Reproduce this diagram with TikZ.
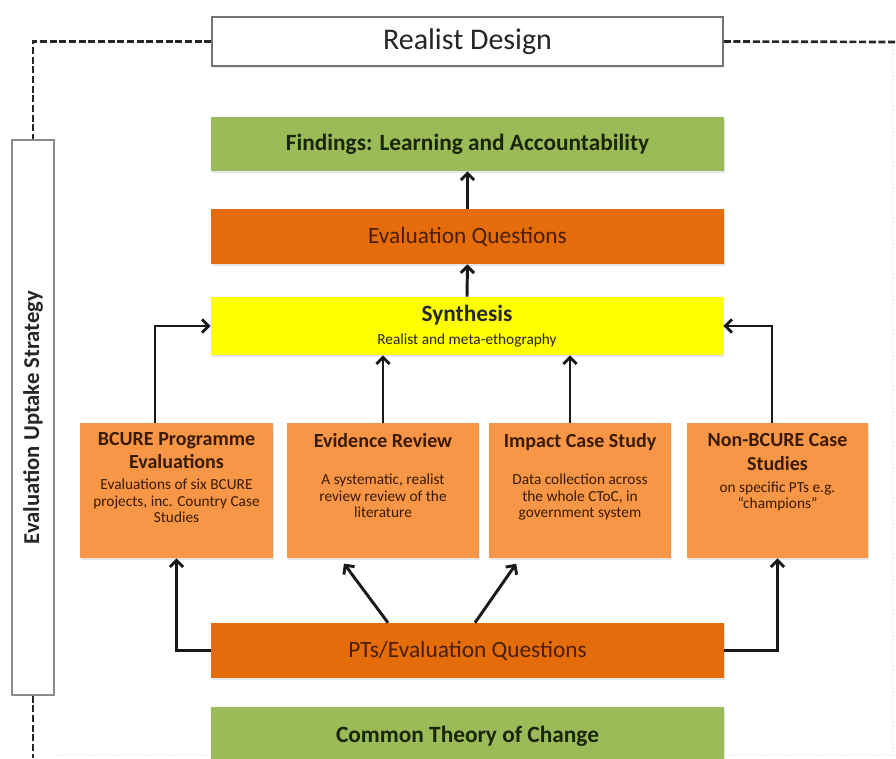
\documentclass[tikz,border=0pt]{standalone}
\usepackage{fontspec}
\setmainfont{Carlito}
\usetikzlibrary{arrows.meta,calc,shadows}

\definecolor{gfill}{HTML}{9BBB59}
\definecolor{ofill}{HTML}{E46C0A}
\definecolor{lofill}{HTML}{F79646}
\definecolor{yfill}{HTML}{FFFF00}
\definecolor{gtext}{HTML}{1A260A}
\definecolor{otext}{HTML}{4A1E00}
\definecolor{ltext}{HTML}{3A1A00}

% text blocks inside the four method boxes
\newcommand{\cardtext}[3]{\parbox[c][99pt][t]{#1}{\centering\vspace*{#2}#3}}
\newcommand{\cardtitle}[1]{{\fontsize{15}{17.5}\selectfont\bfseries #1\par}}
\newcommand{\carddesc}[1]{{\fontsize{11.5}{12.5}\selectfont #1\par}}

\begin{document}
\begin{tikzpicture}[x=0.75pt,y=-0.75pt,
  band/.style={rectangle, minimum width=384.75pt, inner sep=0pt,
    font=\fontsize{17.5}{20}\selectfont,
    drop shadow={shadow xshift=1pt,shadow yshift=-1.5pt,opacity=.2}},
  card/.style={rectangle, fill=lofill, minimum height=101.25pt, inner sep=0pt,
    text=ltext, drop shadow={shadow xshift=1pt,shadow yshift=-1.5pt,opacity=.2}},
  arr/.style={-{Straight Barb[length=5pt,width=10pt]}, line width=2.2pt, black!90},
  frame/.style={line width=2pt, black!85, dash pattern=on 5.25pt off 2pt}]

\useasboundingbox (0,0) rectangle (896,758);
\clip (0,0) rectangle (896,758);

% faint outer edges
\draw[black!7, dotted, line width=.8pt] (893,42) -- (893,758);
\draw[black!7, dotted, line width=.8pt] (54,755) -- (896,755);

% title and side strip
\node[draw=black!55, line width=1.2pt, fill=white, minimum width=383.25pt,
  minimum height=36.75pt, inner sep=0pt, font=\fontsize{22.5}{26}\selectfont, text=black!85,
  drop shadow={shadow xshift=1pt,shadow yshift=-1.5pt,opacity=.15}]
  (rd) at (467.5,41.5) {Realist Design};
\node[draw=black!45, line width=1pt, fill=white, rotate=90, minimum width=416.25pt,
  minimum height=31.5pt, inner sep=0pt, font=\fontsize{17}{20}\selectfont\bfseries, text=black!85]
  (eus) at (33,417.5) {Evaluation Uptake Strategy};

% dashed frame
\coordinate (frTR) at (896,42);
\coordinate (bot) at (0,758);
\draw[frame] (rd.west) -| (eus.east);
\draw[frame] (rd.east) -- (frTR);
\draw[frame] (eus.west) -- (eus.west |- bot);

% main bands
\node[band, fill=gfill, minimum height=40.5pt, text=gtext, font=\fontsize{17.5}{20}\selectfont\bfseries]
  (find) at (467.5,144) {Findings: Learning and Accountability};
\node[band, fill=ofill, minimum height=41.25pt, text=otext]
  (evq) at (467.5,236.5) {Evaluation Questions};
\node[band, fill=yfill, minimum width=384pt, minimum height=43.5pt, align=center, text=black!85]
  (syn) at (467,326) {\textbf{Synthesis}\\[-3pt]{\fontsize{11.5}{12}\selectfont Realist and meta-ethography}};
\node[band, fill=ofill, minimum height=41.25pt, text=otext]
  (pts) at (467.5,650.5) {PTs/Evaluation Questions};
\node[band, fill=gfill, minimum height=43.5pt, text=gtext, font=\fontsize{17.5}{20}\selectfont\bfseries]
  (ctc) at (467.5,736) {Common Theory of Change};

% method boxes
\node[card, minimum width=144.75pt] (b1) at (176.5,490.5)
  {\cardtext{142pt}{6pt}{\cardtitle{BCURE Programme\\Evaluations}\vspace{3pt}%
   \carddesc{Evaluations of six BCURE\\projects, inc. Country Case\\Studies}}};
\node[card, minimum width=144pt] (b2) at (383,490.5)
  {\cardtext{140pt}{7pt}{\cardtitle{Evidence Review}\vspace{15pt}%
   \carddesc{A systematic, realist\\review review of the\\literature}}};
\node[card, minimum width=136.5pt] (b3) at (580,490.5)
  {\cardtext{132pt}{7pt}{\cardtitle{Impact Case Study}\vspace{15pt}%
   \carddesc{Data collection across\\the whole CToC, in\\government system}}};
\node[card, minimum width=135.75pt] (b4) at (777.5,490.5)
  {\cardtext{132pt}{7pt}{\cardtitle{Non-BCURE Case\\Studies}\vspace{4pt}%
   \carddesc{on specific PTs e.g.\\``champions''}}};

% connectors
\draw[arr] (evq.north) -- (find.south);
\draw[arr] (syn.north) -- (evq.south);
\coordinate (b1up) at ($(b1.north)+(-21.5,0)$);
\coordinate (b3up) at ($(b3.north)+(-10,0)$);
\coordinate (b4up) at ($(b4.north)+(-5.5,0)$);
\draw[arr] (b1up) |- (syn.west);
\draw[arr] (b2.north) -- (b2.north |- syn.south);
\draw[arr] (b3up) -- (b3up |- syn.south);
\draw[arr] (b4up) |- (syn.east);

\coordinate (ptsL) at ($(pts.north)+(-79.5,0)$);
\coordinate (ptsR) at ($(pts.north)+(7.5,0)$);
\coordinate (b2in) at ($(b2.south)+(-43,0)$);
\coordinate (b3in) at ($(b3.south)+(-60,0)$);
\draw[arr] (pts.west) -| (b1.south);
\draw[arr] (pts.east) -| (b4.south);
\draw[arr, shorten >=5pt] (ptsL) -- (b2in);
\draw[arr, shorten >=5pt] (ptsR) -- (b3in);
\end{tikzpicture}
\end{document}
